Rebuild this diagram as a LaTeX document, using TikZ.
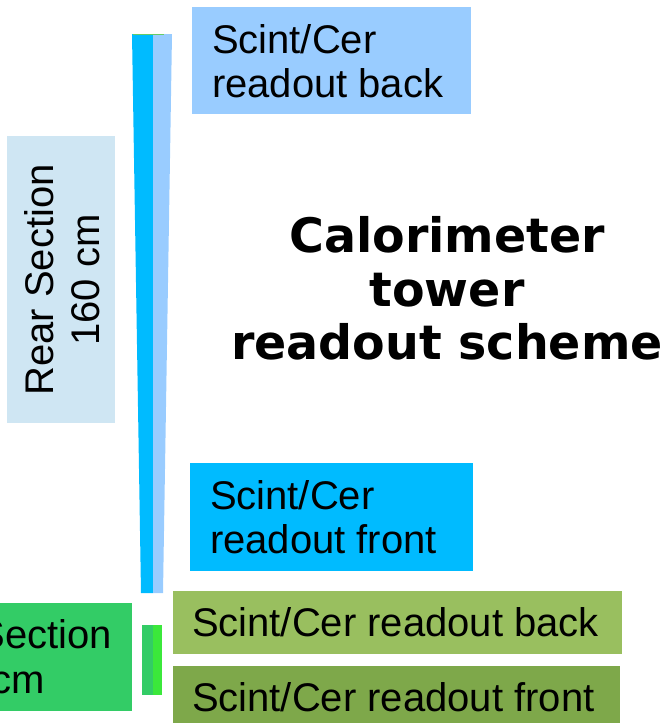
\documentclass[tikz,border=0pt]{standalone}
\usepackage{fontspec}
\setmainfont{Liberation Sans}
\newfontfamily\titlefont{DejaVu Sans}
\definecolor{barblue}{HTML}{00BBFF}
\definecolor{barlight}{HTML}{99CCFF}
\definecolor{backblue}{HTML}{99CCFF}
\definecolor{frontblue}{HTML}{00BBFF}
\definecolor{rearbox}{HTML}{CFE6F3}
\definecolor{secgreen}{HTML}{33CC66}
\definecolor{bargreen}{HTML}{33CC66}
\definecolor{barlgreen}{HTML}{3BE83B}
\definecolor{gback}{HTML}{99BF5F}
\definecolor{gfront}{HTML}{7EA84A}
\definecolor{topline}{HTML}{66CC66}
\begin{document}
\begin{tikzpicture}[x=1pt,y=-1pt,
  box/.style={draw=none,inner sep=0pt,outer sep=0pt,anchor=north west},
  txt/.style={inner sep=0pt,outer sep=0pt,font=\fontsize{40}{45}\selectfont},
  ttl/.style={inner sep=0pt,outer sep=0pt,anchor=base,font=\titlefont\bfseries\fontsize{47.5}{54}\selectfont}]
\useasboundingbox (0,0) rectangle (667,723);
% blue tapered bar
\fill[barblue] (132,34) -- (153,34) -- (153,593) -- (141,593) -- cycle;
\fill[barlight] (153,34) -- (172,34) -- (163,593) -- (153,593) -- cycle;
\draw[topline,line width=0.8pt] (133,34) -- (164,34);
% green bar
\fill[bargreen] (142,625) rectangle (153,695);
\fill[barlgreen] (153,625) rectangle (162,695);
% boxes
\node[box,fill=backblue,minimum width=279pt,minimum height=107pt] (tb) at (192,7) {};
\node[box,fill=frontblue,minimum width=283pt,minimum height=108pt] (fb) at (190,463) {};
\node[box,fill=rearbox,minimum width=108pt,minimum height=287pt] (rb) at (7,136) {};
\node[box,fill=secgreen,minimum width=132pt,minimum height=108pt] (sb) at (0,603) {};
\node[box,fill=gback,minimum width=449pt,minimum height=63pt] (gb) at (173,591) {};
\node[box,fill=gfront,minimum width=447pt,minimum height=60pt] (gf) at (173,666) {};
% texts
\node[txt,anchor=base west] (tb1) at (212,53) {Scint/Cer};
\node[txt,anchor=base west] (tb2) at (212,97) {readout back};
\node[txt,anchor=base west] (fb1) at (210,509) {Scint/Cer};
\node[txt,anchor=base west] (fb2) at (210,553) {readout front};
\node[txt,anchor=base,rotate=90] (rb1) at (53,280) {Rear Section};
\node[txt,anchor=base,rotate=90] (rb2) at (99,280) {160 cm};
\node[txt,anchor=base east] (sb1) at (112,648) {Section};
\node[txt,anchor=base east] (sb2) at (45,693) {cm};
\node[txt,anchor=base west] (gb1) at (192,636) {Scint/Cer readout back};
\node[txt,anchor=base west] (gf1) at (192,711) {Scint/Cer readout front};
\node[ttl] (t1) at (447,252) {Calorimeter};
\node[ttl] (t2) at (447,306) {tower};
\node[ttl] (t3) at (447,359) {readout scheme};
\end{tikzpicture}
\end{document}
